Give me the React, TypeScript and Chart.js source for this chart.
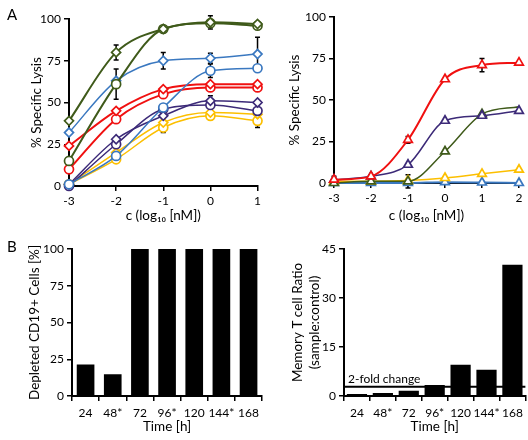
import React, { useEffect, useRef } from 'react';
import { Chart, registerables } from 'chart.js';
Chart.register(...registerables);

const FONT = 'Lato, "Open Sans", sans-serif';
const TICK_SIZE = 12;
const TITLE_SIZE = 13.5;

const GREEN = '#3f5a1a';
const BLUE = '#3a78c0';
const RED = '#f01010';
const PURPLE = '#3c2a78';
const YELLOW = '#fcbf00';

// Panel A (left) concentrations, log10 nM
const concA1 = [-3, -2, -1, 0, 1];
const greenDiamond = [39, 80, 94, 98, 97];
const greenCircle = [15, 61, 94, 97.5, 96];
const blueDiamond = [32, 63, 75, 76.5, 79];
const blueCircle = [1, 18, 47, 69, 70.5];
const redDiamond = [24, 45, 58, 61, 61];
const redCircle = [10, 40, 55, 59, 59];
const purpleDiamond = [1, 28, 42, 51, 50];
const purpleCircle = [0, 25, 46, 48.5, 45];
const yellowDiamond = [1, 20, 38, 44, 43];
const yellowCircle = [1, 16, 35, 42, 39];
// error bars (panel A left)
const greenDiamondErr = [0, 4.5, 0, 4, 0];
const greenCircleErr = [0, 9, 0, 0, 0];
const blueDiamondErr = [0, 0, 5, 3, 10];
const blueCircleErr = [0, 0, 0, 4, 0];
const purpleDiamondErr = [0, 0, 0, 3, 0];
const yellowDiamondErr = [0, 0, 6, 0, 0];
const yellowCircleErr = [0, 0, 0, 0, 4];

// Panel A (right)
const concA2 = [-3, -2, -1, 0, 1, 2];
const redTriangle = [2, 4, 26, 62.5, 71, 72.5];
const purpleTriangle = [2, 4, 11, 37.5, 40.5, 43.5];
const greenTriangle = [0, 1, 1, 19, 41.5, 46];
const yellowTriangle = [1, 1, 1.5, 3, 5.5, 8];
const blueTriangle = [0, 0, 0, 0.5, 0.3, 0];
const redTriangleErr = [2, 0, 2, 0, 4, 0];
const greenTriangleErr = [0, 0, 4, 0, 0, 0];

// Panel B
const timeLabels = ['24', '48*', '72', '96*', '120', '144*', '168'];
const depletedCD19 = [21.5, 14.8, 100, 100, 100, 100, 100];
const memoryRatio = [0.6, 0.9, 1.6, 3.4, 9.6, 8.0, 40.2];
const twoFoldThreshold = 2.8;

const errorBarPlugin = {
  id: 'errorBars',
  beforeDatasetsDraw(chart: any) {
    const ctx = chart.ctx;
    const ys = chart.scales.y;
    chart.data.datasets.forEach((ds: any, di: number) => {
      const errs = ds.errorBars;
      if (!errs) return;
      const meta = chart.getDatasetMeta(di);
      meta.data.forEach((pt: any, i: number) => {
        const e = errs[i];
        if (!e) return;
        const v = ds.data[i].y;
        const t = ys.getPixelForValue(v + e);
        const b = ys.getPixelForValue(v - e);
        ctx.save();
        ctx.strokeStyle = '#000';
        ctx.lineWidth = 1.5;
        ctx.beginPath();
        ctx.moveTo(pt.x, t);
        ctx.lineTo(pt.x, b);
        ctx.moveTo(pt.x - 2.5, t);
        ctx.lineTo(pt.x + 2.5, t);
        ctx.moveTo(pt.x - 2.5, b);
        ctx.lineTo(pt.x + 2.5, b);
        ctx.stroke();
        ctx.restore();
      });
    });
  },
};

const thresholdPlugin = {
  id: 'threshold',
  afterDatasetsDraw(chart: any) {
    const thr = chart.options.plugins.threshold;
    if (!thr) return;
    const ctx = chart.ctx;
    const y = chart.scales.y.getPixelForValue(thr.value);
    const { left, right } = chart.chartArea;
    ctx.save();
    ctx.strokeStyle = '#000';
    ctx.lineWidth = 2;
    ctx.beginPath();
    ctx.moveTo(left, y);
    ctx.lineTo(right, y);
    ctx.stroke();
    ctx.fillStyle = '#000';
    ctx.font = `12px ${FONT}`;
    ctx.textBaseline = 'bottom';
    ctx.textAlign = 'left';
    ctx.fillText(thr.label, left + 4, y - 2);
    ctx.restore();
  },
};

function yAxis(min: number, max: number, step: number, width: number, text: any, padTop: number) {
  return {
    min,
    max,
    ticks: { stepSize: step, color: '#000', font: { family: FONT, size: TICK_SIZE }, padding: 3 },
    grid: { drawOnChartArea: false, drawTicks: true, tickLength: 5, color: '#000', lineWidth: 1.5 },
    border: { display: true, color: '#000', width: 2 },
    title: { display: true, text, color: '#000', font: { family: FONT, size: TITLE_SIZE }, padding: { top: padTop, bottom: 0 } },
    afterFit: (s: any) => {
      s.width = width;
    },
  };
}

function xAxisBase(height: number, text: string, padBottom: number, tickPad: number) {
  return {
    ticks: { color: '#000', font: { family: FONT, size: TICK_SIZE }, padding: tickPad, maxRotation: 0, autoSkip: false },
    grid: { drawOnChartArea: false, drawTicks: true, tickLength: 5, color: '#000', lineWidth: 1.5 },
    border: { display: true, color: '#000', width: 2 },
    title: { display: true, text, color: '#000', font: { family: FONT, size: TITLE_SIZE }, padding: { top: 0, bottom: padBottom } },
    afterFit: (s: any) => {
      s.height = height;
    },
  };
}

function lineDs(xs: number[], ys: number[], color: string, style: string, radius: any, width: number, errs?: number[]) {
  return {
    data: xs.map((x, i) => ({ x, y: ys[i] })),
    borderColor: color,
    backgroundColor: '#fff',
    pointStyle: style,
    pointRadius: radius,
    pointBorderWidth: 1.7,
    pointBackgroundColor: '#fff',
    pointBorderColor: color,
    borderWidth: width,
    cubicInterpolationMode: 'monotone',
    fill: false,
    clip: false,
    errorBars: errs,
  };
}

const baseOpts = {
  responsive: false,
  animation: false,
  events: [],
};

function useChart(ref: any, config: any) {
  useEffect(() => {
    const chart = new Chart(ref.current, config);
    return () => chart.destroy();
  }, []);
}

function PanelA1() {
  const ref = useRef<HTMLCanvasElement>(null);
  useChart(ref, {
    type: 'line',
    data: {
      datasets: [
        lineDs(concA1, greenDiamond, GREEN, 'rectRot', 4.5, 2, greenDiamondErr),
        lineDs(concA1, greenCircle, GREEN, 'circle', 4.5, 2, greenCircleErr),
        lineDs(concA1, blueDiamond, BLUE, 'rectRot', 4.5, 1.5, blueDiamondErr),
        lineDs(concA1, blueCircle, BLUE, 'circle', 4.5, 1.5, blueCircleErr),
        lineDs(concA1, redDiamond, RED, 'rectRot', 4.5, 2),
        lineDs(concA1, redCircle, RED, 'circle', 4.5, 2),
        lineDs(concA1, purpleDiamond, PURPLE, 'rectRot', 4.5, 1.5, purpleDiamondErr),
        lineDs(concA1, purpleCircle, PURPLE, 'circle', 4.5, 1.5),
        lineDs(concA1, yellowDiamond, YELLOW, 'rectRot', 4.5, 1.5, yellowDiamondErr),
        lineDs(concA1, yellowCircle, YELLOW, 'circle', 4.5, 1.5, yellowCircleErr),
      ],
    },
    options: {
      ...baseOpts,
      layout: { padding: { top: 19, right: 4, left: 0, bottom: 0 } },
      plugins: { legend: { display: false }, tooltip: { enabled: false } },
      scales: {
        x: { type: 'linear', min: -3, max: 1, ...xAxisBase(38, 'c (log₁₀ [nM])', 0, 3), ticks: { stepSize: 1, color: '#000', font: { family: FONT, size: TICK_SIZE }, padding: 3 } },
        y: yAxis(0, 100, 25, 69, '% Specific Lysis', 29),
      },
    },
    plugins: [errorBarPlugin],
  });
  return <canvas ref={ref} width={264} height={224} style={{ position: 'absolute', left: 0, top: 0 }} />;
}

function PanelA2() {
  const ref = useRef<HTMLCanvasElement>(null);
  useChart(ref, {
    type: 'line',
    data: {
      datasets: [
        lineDs(concA2, redTriangle, RED, 'triangle', 5, 2, redTriangleErr),
        lineDs(concA2, purpleTriangle, PURPLE, 'triangle', 5, 1.5),
        lineDs(concA2, greenTriangle, GREEN, 'triangle', [5, 5, 5, 5, 5, 0], 1.5, greenTriangleErr),
        lineDs(concA2, yellowTriangle, YELLOW, 'triangle', 5, 1.5),
        lineDs(concA2, blueTriangle, BLUE, 'triangle', 5, 2),
      ],
    },
    options: {
      ...baseOpts,
      layout: { padding: { top: 17, right: 9, left: 0, bottom: 0 } },
      plugins: { legend: { display: false }, tooltip: { enabled: false } },
      scales: {
        x: { type: 'linear', min: -3, max: 2, ...xAxisBase(41, 'c (log₁₀ [nM])', 0, 3), ticks: { stepSize: 1, color: '#000', font: { family: FONT, size: TICK_SIZE }, padding: 3 } },
        y: yAxis(0, 100, 25, 70, '% Specific Lysis', 23),
      },
    },
    plugins: [errorBarPlugin],
  });
  return <canvas ref={ref} width={264} height={224} style={{ position: 'absolute', left: 264, top: 0 }} />;
}

function PanelB1() {
  const ref = useRef<HTMLCanvasElement>(null);
  useChart(ref, {
    type: 'bar',
    data: {
      labels: timeLabels,
      datasets: [{ data: depletedCD19, backgroundColor: '#000', barPercentage: 0.65, categoryPercentage: 1 }],
    },
    options: {
      ...baseOpts,
      layout: { padding: { top: 25, right: 0, left: 0, bottom: 0 } },
      plugins: { legend: { display: false }, tooltip: { enabled: false } },
      scales: {
        x: { ...xAxisBase(44, 'Time [h]', 5, 5), grid: { offset: true, drawOnChartArea: false, drawTicks: true, tickLength: 5, color: '#000', lineWidth: 1.5 } },
        y: yAxis(0, 100, 25, 72, 'Depleted CD19+ Cells [%]', 27),
      },
    },
  });
  return <canvas ref={ref} width={264} height={216} style={{ position: 'absolute', left: 0, top: 224 }} />;
}

function PanelB2() {
  const ref = useRef<HTMLCanvasElement>(null);
  useChart(ref, {
    type: 'bar',
    data: {
      labels: timeLabels,
      datasets: [{ data: memoryRatio, backgroundColor: '#000', barPercentage: 0.78, categoryPercentage: 1 }],
    },
    options: {
      ...baseOpts,
      layout: { padding: { top: 25, right: 2, left: 0, bottom: 0 } },
      plugins: {
        legend: { display: false },
        tooltip: { enabled: false },
        threshold: { value: twoFoldThreshold, label: '2-fold change' },
      },
      scales: {
        x: { ...xAxisBase(44, 'Time [h]', 5, 5), grid: { offset: true, drawOnChartArea: false, drawTicks: true, tickLength: 5, color: '#000', lineWidth: 1.5 } },
        y: yAxis(0, 45, 15, 80, ['Memory T cell Ratio', '(sample:control)'], 26),
      },
    },
    plugins: [thresholdPlugin],
  });
  return <canvas ref={ref} width={264} height={216} style={{ position: 'absolute', left: 264, top: 224 }} />;
}

const letterStyle: any = {
  position: 'absolute',
  fontFamily: FONT,
  fontSize: 15,
  lineHeight: '15px',
  color: '#000',
};

export default function App() {
  return (
    <div style={{ position: 'fixed', left: 0, top: 0, width: 528, height: 440, background: '#fff', overflow: 'hidden' }}>
      <PanelA1 />
      <PanelA2 />
      <PanelB1 />
      <PanelB2 />
      <div style={{ ...letterStyle, left: 7, top: 7 }}>A</div>
      <div style={{ ...letterStyle, left: 7, top: 239 }}>B</div>
    </div>
  );
}
